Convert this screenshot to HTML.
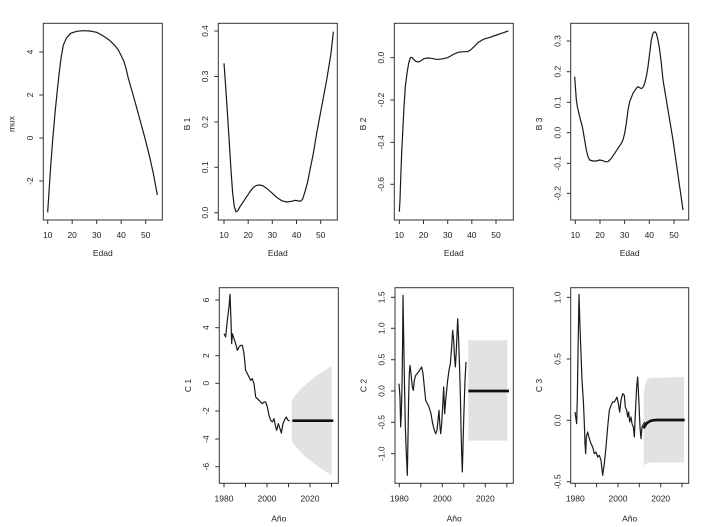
<!DOCTYPE html>
<html><head><meta charset="utf-8"><style>
html,body{margin:0;padding:0;background:#fff;}
svg{display:block;}
text{font-family:"Liberation Sans",Arial,sans-serif;font-size:8.5px;fill:#222;}
.box{fill:none;stroke:#333;stroke-width:1;}
.tk{stroke:#333;stroke-width:1;}
.ln{fill:none;stroke:#1a1a1a;stroke-width:1.2;stroke-linejoin:round;}
.fc{fill:none;stroke:#111;stroke-width:2.7;}
.sh{fill:#e2e2e2;stroke:none;}
</style></head><body>
<svg width="703" height="527" viewBox="0 0 703 527" xmlns="http://www.w3.org/2000/svg">

<!-- ===== Panel 1: mux ===== -->
<rect class="box" x="43.3" y="23.3" width="119" height="196.7"/>
<g transform="scale(0.33333)"><polyline class="ln" vector-effect="non-scaling-stroke" points="143,637 152,500 158,420 165,340 172,270 178,215 183,175 190,135 200,113 212,100 230,94 250,92 270,93 290,97 310,108 330,122 345,137 355,150 365,170 372,185 378,205 385,235 395,270 405,305 420,360 435,415 450,475 460,520 472,585"/></g>
<g class="tk">
<line x1="47.7" y1="220" x2="47.7" y2="224"/><line x1="72.2" y1="220" x2="72.2" y2="224"/><line x1="96.7" y1="220" x2="96.7" y2="224"/><line x1="121.2" y1="220" x2="121.2" y2="224"/><line x1="145.7" y1="220" x2="145.7" y2="224"/>
<line x1="39.3" y1="52" x2="43.3" y2="52"/><line x1="39.3" y1="95" x2="43.3" y2="95"/><line x1="39.3" y1="138" x2="43.3" y2="138"/><line x1="39.3" y1="181" x2="43.3" y2="181"/>
</g>
<g text-anchor="middle">
<text x="47.7" y="238">10</text><text x="72.2" y="238">20</text><text x="96.7" y="238">30</text><text x="121.2" y="238">40</text><text x="145.7" y="238">50</text>
<text transform="translate(33,52) rotate(-90)">4</text><text transform="translate(33,95) rotate(-90)">2</text><text transform="translate(33,138) rotate(-90)">0</text><text transform="translate(33,181) rotate(-90)">-2</text>
<text x="102.8" y="256">Edad</text>
<text transform="translate(14.5,124) rotate(-90)">mux</text>
</g>

<!-- ===== Panel 2: B 1 ===== -->
<rect class="box" x="218.3" y="23.3" width="119" height="196.7"/>
<g transform="translate(175,0) scale(0.33333)"><polyline class="ln" vector-effect="non-scaling-stroke" points="147,190 152,260 158,350 163,430 168,510 173,580 178,620 183,635 188,633 195,620 205,605 215,590 225,575 235,562 245,556 255,555 265,558 275,565 290,578 305,592 320,602 335,606 350,604 360,601 370,603 378,603 383,597 390,575 398,545 405,510 415,460 425,400 440,320 455,240 468,160 475,95"/></g>
<g class="tk">
<line x1="224" y1="220" x2="224" y2="224"/><line x1="248.2" y1="220" x2="248.2" y2="224"/><line x1="272.3" y1="220" x2="272.3" y2="224"/><line x1="296.5" y1="220" x2="296.5" y2="224"/><line x1="320.7" y1="220" x2="320.7" y2="224"/>
<line x1="214.3" y1="31" x2="218.3" y2="31"/><line x1="214.3" y1="76.5" x2="218.3" y2="76.5"/><line x1="214.3" y1="122" x2="218.3" y2="122"/><line x1="214.3" y1="167.3" x2="218.3" y2="167.3"/><line x1="214.3" y1="212.7" x2="218.3" y2="212.7"/>
</g>
<g text-anchor="middle">
<text x="224" y="238">10</text><text x="248.2" y="238">20</text><text x="272.3" y="238">30</text><text x="296.5" y="238">40</text><text x="320.7" y="238">50</text>
<text transform="translate(208,31) rotate(-90)">0.4</text><text transform="translate(208,76.5) rotate(-90)">0.3</text><text transform="translate(208,122) rotate(-90)">0.2</text><text transform="translate(208,167.3) rotate(-90)">0.1</text><text transform="translate(208,212.7) rotate(-90)">0.0</text>
<text x="277.8" y="256">Edad</text>
<text transform="translate(189.8,124) rotate(-90)">B 1</text>
</g>

<!-- ===== Panel 3: B 2 ===== -->
<rect class="box" x="394.3" y="23.3" width="119" height="196.7"/>
<g transform="translate(350,0) scale(0.33333)"><polyline class="ln" vector-effect="non-scaling-stroke" points="148,635 150,600 152,540 155,460 158,400 162,320 166,260 171,220 176,190 181,173 186,172 191,178 197,184 205,186 213,182 222,176 232,174 245,175 258,178 268,178 280,176 292,173 302,168 312,162 325,157 340,155 352,155 362,150 372,140 385,127 400,118 420,112 440,105 460,98 475,93"/></g>
<g class="tk">
<line x1="399.3" y1="220" x2="399.3" y2="224"/><line x1="423.5" y1="220" x2="423.5" y2="224"/><line x1="447.7" y1="220" x2="447.7" y2="224"/><line x1="471.8" y1="220" x2="471.8" y2="224"/><line x1="496" y1="220" x2="496" y2="224"/>
<line x1="390.3" y1="57.7" x2="394.3" y2="57.7"/><line x1="390.3" y1="100" x2="394.3" y2="100"/><line x1="390.3" y1="142.3" x2="394.3" y2="142.3"/><line x1="390.3" y1="184.3" x2="394.3" y2="184.3"/>
</g>
<g text-anchor="middle">
<text x="399.3" y="238">10</text><text x="423.5" y="238">20</text><text x="447.7" y="238">30</text><text x="471.8" y="238">40</text><text x="496" y="238">50</text>
<text transform="translate(384,57.7) rotate(-90)">0.0</text><text transform="translate(384,100) rotate(-90)">-0.2</text><text transform="translate(384,142.3) rotate(-90)">-0.4</text><text transform="translate(384,184.3) rotate(-90)">-0.6</text>
<text x="453.8" y="256">Edad</text>
<text transform="translate(365.8,124) rotate(-90)">B 2</text>
</g>

<!-- ===== Panel 4: B 3 ===== -->
<rect class="box" x="570.7" y="23.3" width="118" height="196.7"/>
<g transform="translate(523,0) scale(0.33333)"><polyline class="ln" vector-effect="non-scaling-stroke" points="155,230 160,300 163,320 170,350 178,380 185,420 190,450 195,470 200,480 210,483 220,483 230,480 240,482 245,485 255,485 265,475 275,460 285,445 295,430 300,420 305,400 310,370 315,330 320,305 330,280 340,265 345,260 350,263 355,266 360,262 365,250 370,230 375,200 380,160 385,120 390,100 395,95 400,100 405,120 410,150 415,190 420,240 430,300 440,360 450,420 460,490 470,560 480,630"/></g>
<g class="tk">
<line x1="575.3" y1="220" x2="575.3" y2="224"/><line x1="600" y1="220" x2="600" y2="224"/><line x1="624.6" y1="220" x2="624.6" y2="224"/><line x1="649.3" y1="220" x2="649.3" y2="224"/><line x1="674" y1="220" x2="674" y2="224"/>
<line x1="566.7" y1="41" x2="570.7" y2="41"/><line x1="566.7" y1="71.7" x2="570.7" y2="71.7"/><line x1="566.7" y1="102.3" x2="570.7" y2="102.3"/><line x1="566.7" y1="132.7" x2="570.7" y2="132.7"/><line x1="566.7" y1="163.3" x2="570.7" y2="163.3"/><line x1="566.7" y1="193.3" x2="570.7" y2="193.3"/>
</g>
<g text-anchor="middle">
<text x="575.3" y="238">10</text><text x="600" y="238">20</text><text x="624.6" y="238">30</text><text x="649.3" y="238">40</text><text x="674" y="238">50</text>
<text transform="translate(560.4,41) rotate(-90)">0.3</text><text transform="translate(560.4,71.7) rotate(-90)">0.2</text><text transform="translate(560.4,102.3) rotate(-90)">0.1</text><text transform="translate(560.4,132.7) rotate(-90)">0.0</text><text transform="translate(560.4,163.3) rotate(-90)">-0.1</text><text transform="translate(560.4,193.3) rotate(-90)">-0.2</text>
<text x="629.7" y="256">Edad</text>
<text transform="translate(542.2,124) rotate(-90)">B 3</text>
</g>

<!-- ===== Panel 5: C 1 ===== -->
<g transform="translate(175,265) scale(0.33333)">
<polygon class="sh" points="350,407 360,392.6 370,380.6 380,370.1 390,360.6 400,351.9 410,343.8 420,336.1 430,329 440,322.1 450,315.6 460,309.4 470,303.4 470,630.6 460,624.6 450,618.4 440,611.9 430,605 420,597.9 410,590.2 400,582.1 390,573.4 380,563.9 370,553.4 360,541.4 350,527"/>
<line class="fc" vector-effect="non-scaling-stroke" x1="352" y1="467" x2="475" y2="467"/>
</g>
<g transform="translate(219,287) scale(0.33333)"><polyline class="ln" vector-effect="non-scaling-stroke" points="15,140 20,150 25,100 30,60 33,22 36,100 38,170 40,140 45,155 50,170 55,190 60,180 65,175 70,175 75,200 80,250 85,260 90,270 95,280 100,275 105,290 110,330 115,335 120,340 125,345 130,350 135,345 140,345 145,360 150,385 155,400 160,405 165,395 170,420 173,430 178,410 183,425 187,438 192,410 197,398 202,390 207,400 212,402"/></g>
<rect class="box" x="219.3" y="287.7" width="119" height="195.6"/>
<g class="tk">
<line x1="224" y1="483.3" x2="224" y2="487.3"/><line x1="245.5" y1="483.3" x2="245.5" y2="487.3"/><line x1="267" y1="483.3" x2="267" y2="487.3"/><line x1="288.5" y1="483.3" x2="288.5" y2="487.3"/><line x1="310" y1="483.3" x2="310" y2="487.3"/><line x1="331.5" y1="483.3" x2="331.5" y2="487.3"/>
<line x1="215.3" y1="300" x2="219.3" y2="300"/><line x1="215.3" y1="327.7" x2="219.3" y2="327.7"/><line x1="215.3" y1="355.7" x2="219.3" y2="355.7"/><line x1="215.3" y1="383.3" x2="219.3" y2="383.3"/><line x1="215.3" y1="411" x2="219.3" y2="411"/><line x1="215.3" y1="439" x2="219.3" y2="439"/><line x1="215.3" y1="466.7" x2="219.3" y2="466.7"/>
</g>
<g text-anchor="middle">
<text x="224" y="501.5">1980</text><text x="267" y="501.5">2000</text><text x="310" y="501.5">2020</text>
<text transform="translate(209,300) rotate(-90)">6</text><text transform="translate(209,327.7) rotate(-90)">4</text><text transform="translate(209,355.7) rotate(-90)">2</text><text transform="translate(209,383.3) rotate(-90)">0</text><text transform="translate(209,411) rotate(-90)">-2</text><text transform="translate(209,439) rotate(-90)">-4</text><text transform="translate(209,466.7) rotate(-90)">-6</text>
<text x="278.8" y="521.5">Año</text>
<text transform="translate(190.8,385.5) rotate(-90)">C 1</text>
</g>

<!-- ===== Panel 6: C 2 ===== -->
<g transform="translate(350,265) scale(0.33333)">
<rect class="sh" x="355" y="226" width="117" height="301"/>
<line class="fc" vector-effect="non-scaling-stroke" x1="355" y1="378" x2="477" y2="378"/>
</g>
<g transform="translate(395,287) scale(0.33333)"><polyline class="ln" vector-effect="non-scaling-stroke" points="12,290 15,330 17,420 19,380 21,300 23,150 24,25 25,85 27,210 29,320 31,420 34,500 37,565 39,450 41,330 43,260 45,235 48,260 52,300 55,310 58,280 62,265 68,258 75,248 80,240 84,260 88,300 92,340 97,350 102,360 108,380 113,410 118,430 122,440 126,430 129,400 132,370 135,420 137,440 140,410 143,360 146,300 149,380 152,340 155,310 158,280 162,250 166,230 170,180 173,130 176,160 178,200 181,240 184,190 188,95 191,160 194,250 196,320 198,420 200,500 202,555 204,480 206,400 208,340 210,280 213,225"/></g>
<rect class="box" x="395" y="287.7" width="118.3" height="195.6"/>
<g class="tk">
<line x1="399.3" y1="483.3" x2="399.3" y2="487.3"/><line x1="420.8" y1="483.3" x2="420.8" y2="487.3"/><line x1="442.3" y1="483.3" x2="442.3" y2="487.3"/><line x1="463.8" y1="483.3" x2="463.8" y2="487.3"/><line x1="485.3" y1="483.3" x2="485.3" y2="487.3"/><line x1="506.8" y1="483.3" x2="506.8" y2="487.3"/>
<line x1="391" y1="297.3" x2="395" y2="297.3"/><line x1="391" y1="328.3" x2="395" y2="328.3"/><line x1="391" y1="359.7" x2="395" y2="359.7"/><line x1="391" y1="391" x2="395" y2="391"/><line x1="391" y1="422.3" x2="395" y2="422.3"/><line x1="391" y1="453.7" x2="395" y2="453.7"/>
</g>
<g text-anchor="middle">
<text x="399.3" y="501.5">1980</text><text x="442.3" y="501.5">2000</text><text x="485.3" y="501.5">2020</text>
<text transform="translate(384.7,297.3) rotate(-90)">1.5</text><text transform="translate(384.7,328.3) rotate(-90)">1.0</text><text transform="translate(384.7,359.7) rotate(-90)">0.5</text><text transform="translate(384.7,391) rotate(-90)">0.0</text><text transform="translate(384.7,422.3) rotate(-90)">-0.5</text><text transform="translate(384.7,453.7) rotate(-90)">-1.0</text>
<text x="454.2" y="521.5">Año</text>
<text transform="translate(366.5,385.5) rotate(-90)">C 2</text>
</g>

<!-- ===== Panel 7: C 3 ===== -->
<g transform="translate(523,265) scale(0.33333)">
<path class="sh" d="M362,395 C365,360 368,346 380,339 L483,336 L483,592 L380,593 C370,595 366,598 362,603 Z"/>
<polyline class="fc" vector-effect="non-scaling-stroke" points="362,490 366,482 370,476 375,472 382,468 390,466 400,465 485,465"/>
</g>
<g transform="translate(571,287) scale(0.33333)"><polyline class="ln" vector-effect="non-scaling-stroke" points="12,375 17,410 19,330 21,200 24,22 27,120 30,200 33,280 37,340 40,410 42,470 44,500 46,450 50,435 55,455 60,470 65,480 70,500 75,495 80,510 85,505 90,520 95,565 100,530 105,480 110,420 115,370 120,355 125,345 130,345 133,340 138,330 142,350 146,375 150,340 155,320 160,325 163,360 167,370 170,390 173,375 176,405 180,390 183,410 187,420 190,450 193,380 197,300 200,270 203,330 207,420 210,455 213,420 218,410 222,405"/></g>
<rect class="box" x="570.7" y="287.7" width="118" height="195.6"/>
<g class="tk">
<line x1="575.3" y1="483.3" x2="575.3" y2="487.3"/><line x1="596.6" y1="483.3" x2="596.6" y2="487.3"/><line x1="618" y1="483.3" x2="618" y2="487.3"/><line x1="639.3" y1="483.3" x2="639.3" y2="487.3"/><line x1="660.7" y1="483.3" x2="660.7" y2="487.3"/><line x1="682" y1="483.3" x2="682" y2="487.3"/>
<line x1="566.7" y1="297.3" x2="570.7" y2="297.3"/><line x1="566.7" y1="359" x2="570.7" y2="359"/><line x1="566.7" y1="420.3" x2="570.7" y2="420.3"/><line x1="566.7" y1="481.7" x2="570.7" y2="481.7"/>
</g>
<g text-anchor="middle">
<text x="575.3" y="501.5">1980</text><text x="618" y="501.5">2000</text><text x="660.7" y="501.5">2020</text>
<text transform="translate(560.4,297.3) rotate(-90)">1.0</text><text transform="translate(560.4,359) rotate(-90)">0.5</text><text transform="translate(560.4,420.3) rotate(-90)">0.0</text><text transform="translate(560.4,481.7) rotate(-90)">-0.5</text>
<text x="629.7" y="521.5">Año</text>
<text transform="translate(542.2,385.5) rotate(-90)">C 3</text>
</g>

</svg>
</body></html>
